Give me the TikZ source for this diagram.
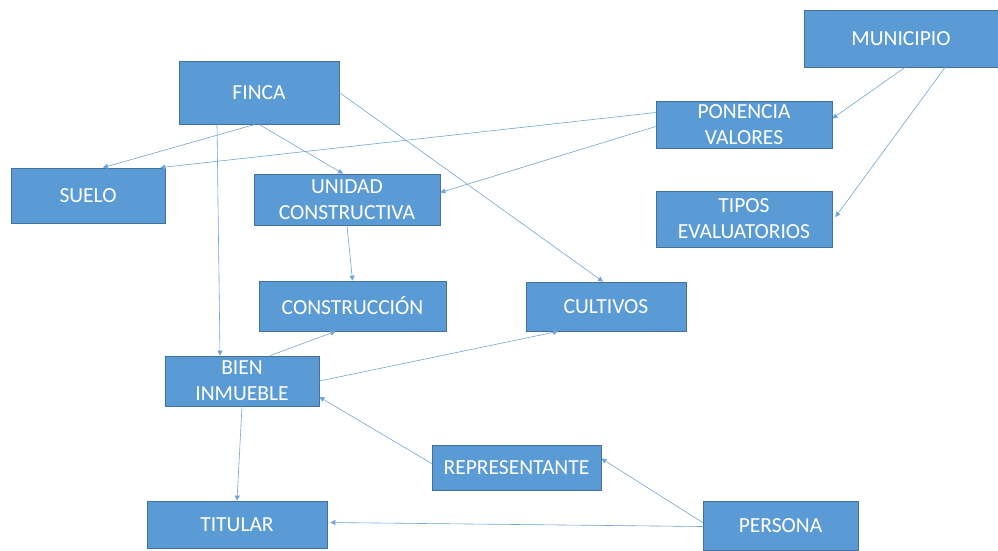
\documentclass[tikz,border=0pt]{standalone}
\usepackage{fontspec}
\setmainfont{Carlito}
\usetikzlibrary{arrows.meta}
\definecolor{boxfill}{HTML}{5B9BD5}
\definecolor{boxline}{HTML}{41719C}
\definecolor{conn}{HTML}{6FA5D8}
\tikzset{
  box/.style={rectangle, fill=boxfill, draw=boxline, line width=0.8pt, text=white,
    inner sep=0pt, align=center, font=\fontsize{21.5}{26}\selectfont},
  link/.style={draw=conn, line width=0.6pt, -{Triangle[length=5pt,width=5pt]}}
}
\begin{document}
\begin{tikzpicture}[x=1pt,y=-1pt]
\useasboundingbox (0,0) rectangle (998,550);
% nodes (center, width, height in px)
\node[box, minimum width=194pt, minimum height=57pt] (mun) at (901,38.5) {MUNICIPIO};
\node[box, minimum width=160pt, minimum height=63pt] (finca) at (259,92.5) {FINCA};
\node[box, minimum width=176pt, minimum height=47pt] (pon) at (744,124.5) {PONENCIA\\VALORES};
\node[box, minimum width=154pt, minimum height=55pt] (suelo) at (88,195.5) {SUELO};
\node[box, minimum width=186pt, minimum height=51pt] (unidad) at (347,199.5) {UNIDAD\\CONSTRUCTIVA};
\node[box, minimum width=176pt, minimum height=56pt] (tipos) at (744,219) {TIPOS\\EVALUATORIOS};
\node[box, minimum width=187pt, minimum height=50pt] (constr) at (352.5,306) {CONSTRUCCIÓN};
\node[box, minimum width=160pt, minimum height=49pt] (cult) at (606,306.5) {CULTIVOS};
\node[box, minimum width=154pt, minimum height=50pt] (bien) at (242,381) {BIEN\\INMUEBLE};
\node[box, minimum width=169pt, minimum height=45pt] (rep) at (516.5,467.5) {REPRESENTANTE};
\node[box, minimum width=180pt, minimum height=47pt] (tit) at (237,524.5) {TITULAR};
\node[box, minimum width=155pt, minimum height=49pt] (pers) at (780.5,525.5) {PERSONA};
% connectors
\draw[link] ([xshift=4pt]mun.south) -- ([yshift=6pt]pon.east);
\draw[link] ([xshift=44pt]mun.south) -- ([xshift=3pt,yshift=2pt]tipos.east);
\draw[link] ([yshift=12pt]pon.west) -- ([xshift=-5pt]suelo.north east);
\draw[link] ([yshift=-2pt]pon.west) -- ([yshift=7pt]unidad.east);
\draw[link] ([xshift=-4pt]finca.south) -- ([xshift=15pt]suelo.north);
\draw[link] (finca.south) -- ([xshift=-4pt]unidad.north);
\draw[link] (finca.east) -- ([xshift=-3pt]cult.north);
\draw[link] ([xshift=-42pt]finca.south) -- ([xshift=-22pt]bien.north);
\draw[link] (unidad.south) -- (constr.north);
\draw[link] ([xshift=28pt]bien.north) -- ([xshift=-17pt]constr.south);
\draw[link] (bien.east) -- ([xshift=-48pt]cult.south);
\draw[link] ([yshift=4pt]rep.west) -- ([yshift=-16pt]bien.east);
\draw[link] (bien.south) -- (tit.north);
\draw[link] ([yshift=3pt]pers.west) -- ([yshift=9pt]rep.east);
\draw[link] ([yshift=-1pt]pers.west) -- ([xshift=3pt,yshift=2pt]tit.east);
\end{tikzpicture}
\end{document}
